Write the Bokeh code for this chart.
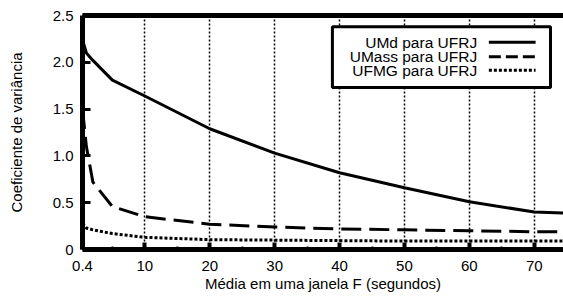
from bokeh.plotting import figure
from bokeh.models import FixedTicker, LinearAxis, Label
from bokeh.embed import file_html
from bokeh.resources import INLINE

# ---- data ----
window_s = [0.4, 1, 2, 5, 10, 20, 30, 40, 50, 60, 70, 80]
umd_ufrj = [2.24, 2.10, 2.02, 1.81, 1.64, 1.29, 1.03, 0.82, 0.66, 0.51, 0.40, 0.38]
umass_ufrj = [1.50, 1.10, 0.72, 0.46, 0.35, 0.27, 0.24, 0.22, 0.21, 0.20, 0.19, 0.19]
ufmg_ufrj = [0.28, 0.23, 0.21, 0.17, 0.13, 0.105, 0.10, 0.095, 0.09, 0.09, 0.09, 0.09]
series_names = ["UMd para UFRJ", "UMass para UFRJ", "UFMG para UFRJ"]
x_ticks = [0.4, 10, 20, 30, 40, 50, 60, 70]
x_tick_labels = ["0.4", "10", "20", "30", "40", "50", "60", "70"]
x_minor = [5, 15, 25, 35, 45, 55, 65, 75]
y_ticks = [0, 0.5, 1.0, 1.5, 2.0, 2.5]
y_tick_labels = ["0", "0.5", "1.0", "1.5", "2.0", "2.5"]

FONT = "Liberation Sans"

p = figure(width=563, height=303, x_range=(0.4, 74.5), y_range=(0, 2.5),
           output_backend="svg", toolbar_location=None,
           min_border_left=82, min_border_right=0, min_border_top=15, min_border_bottom=54)
p.outline_line_color = None
p.background_fill_color = "white"
p.border_fill_color = "white"

# grid
p.ygrid.grid_line_color = None
p.xgrid.ticker = FixedTicker(ticks=x_ticks[1:])
p.xgrid.grid_line_color = "black"
p.xgrid.grid_line_dash = "2 2"
p.xgrid.grid_line_width = 1.5

# x axis
xa = p.xaxis[0]
xa.ticker = FixedTicker(ticks=x_ticks, minor_ticks=x_minor)
xa.major_label_overrides = {t: l for t, l in zip(x_ticks, x_tick_labels)}
xa.axis_line_width = 5
xa.major_tick_in = 7
xa.major_tick_out = 0
xa.major_tick_line_width = 4
xa.minor_tick_in = 3
xa.minor_tick_out = 0
xa.minor_tick_line_width = 2
xa.major_label_text_font = FONT
xa.major_label_text_font_size = "15px"
xa.major_label_text_color = "black"
xa.major_label_standoff = 11
xa.axis_label = "Média em uma janela F (segundos)"
xa.axis_label_text_font = FONT
xa.axis_label_text_font_size = "15px"
xa.axis_label_text_font_style = "normal"
xa.axis_label_text_color = "black"
xa.axis_label_standoff = 1

# y axis
ya = p.yaxis[0]
ya.ticker = FixedTicker(ticks=y_ticks)
ya.major_label_overrides = {t: l for t, l in zip(y_ticks, y_tick_labels)}
ya.axis_line_width = 5
ya.major_tick_in = 8
ya.major_tick_out = 0
ya.major_tick_line_width = 3
ya.minor_tick_line_color = None
ya.major_label_text_font = FONT
ya.major_label_text_font_size = "15px"
ya.major_label_text_color = "black"
ya.major_label_standoff = 9
ya.axis_label = "Coeficiente de variância"
ya.axis_label_text_font = FONT
ya.axis_label_text_font_size = "15px"
ya.axis_label_text_font_style = "normal"
ya.axis_label_text_color = "black"
ya.axis_label_standoff = 25

# top border as axis
top = LinearAxis(axis_line_width=5, major_tick_line_color=None, minor_tick_line_color=None,
                 major_label_text_font_size="0px", ticker=FixedTicker(ticks=[]))
p.add_layout(top, "above")

# series
p.line(window_s, umd_ufrj, line_color="black", line_width=3)
p.line(window_s, umass_ufrj, line_color="black", line_width=3, line_dash="20 8")
p.line(window_s, ufmg_ufrj, line_color="black", line_width=3, line_dash="3 2")

# legend (manual, text right aligned, sample on the right)
p.quad(left=[38.9], right=[72.5], bottom=[1.73], top=[2.38],
       fill_color="white", line_color="black", line_width=3)
rows_y = [2.215, 2.06, 1.915]
dashes = ["solid", "12 5", "3 2"]
for name, yy, dash in zip(series_names, rows_y, dashes):
    p.add_layout(Label(x=61.2, y=yy, text=name, text_align="right", text_baseline="middle",
                       text_font=FONT, text_font_size="15.5px", text_color="black"))
    p.line([63.0, 70.2], [yy, yy], line_color="black", line_width=3, line_dash=dash)

open("out.html", "w").write(file_html(p, INLINE))
